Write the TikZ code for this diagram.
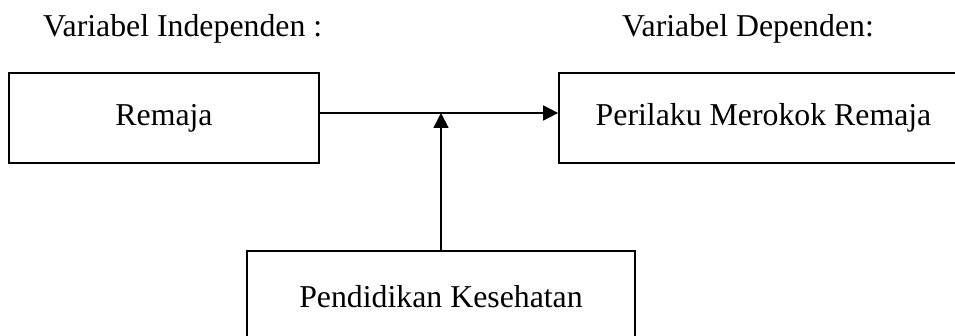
\documentclass[tikz,border=0pt]{standalone}
\usepackage{fontspec}
\setmainfont{Liberation Serif}
\usetikzlibrary{arrows.meta}
\begin{document}
\begin{tikzpicture}[x=1pt,y=1pt,
  box/.style={draw=black, line width=1.8pt, inner sep=0pt, font=\fontsize{31.8}{38}\selectfont},
  head/.style={anchor=base west, inner sep=0pt, font=\fontsize{31.8}{38}\selectfont},
  conn/.style={line width=1.8pt, -{Triangle[length=15pt,width=15pt]}}]
\useasboundingbox (0,0) rectangle (955,-336);
\clip (0,0) rectangle (955,-336);
\node[head] (hi) at (43,-37) {Variabel Independen :};
\node[head] (hd) at (622,-37) {Variabel Dependen:};
\node[box, minimum width=310pt, minimum height=90pt] (rem) at (164,-118) {Remaja};
\node[box, minimum width=409pt, minimum height=90pt] (per) at (763.5,-118) {Perilaku Merokok Remaja};
\node[box, minimum width=388pt, minimum height=92pt] (pen) at (441,-297) {Pendidikan Kesehatan};
\coordinate (j) at (441,-113);
\draw[conn] (rem.east |- j) -- (per.west |- j);
\draw[conn] (pen.north) -- (j);
\end{tikzpicture}
\end{document}
